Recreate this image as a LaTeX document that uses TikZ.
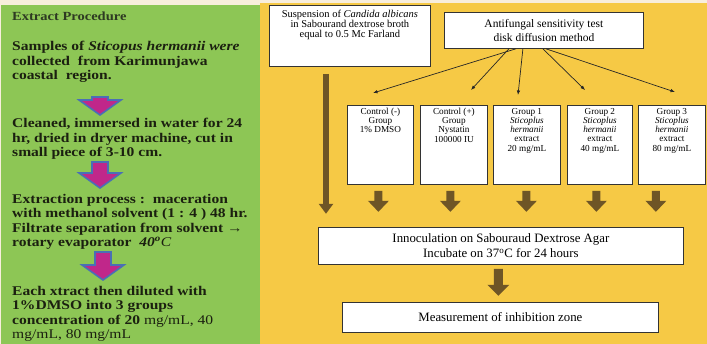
\documentclass[tikz,border=0pt]{standalone}
\usepackage{fontspec}
\setmainfont{Liberation Serif}
\newfontfamily\leftfont[FakeStretch=1.17]{Liberation Serif}
\usetikzlibrary{arrows.meta}
\definecolor{bgbeige}{HTML}{F8EEDC}
\definecolor{panelgreen}{HTML}{8DC655}
\definecolor{panelyellow}{HTML}{F6C945}
\definecolor{arrowbrown}{HTML}{6E5526}
\definecolor{arrowblue}{HTML}{4A6FB5}
\definecolor{arrowpink}{HTML}{C0278A}
\definecolor{lefttext}{HTML}{1B2010}
\definecolor{titletext}{HTML}{2E3A22}
\tikzset{
  box/.style={draw=black!80, line width=0.8pt, fill=white, inner sep=0pt},
  lefttxt/.style={anchor=base west, align=left, inner sep=0pt, text=lefttext,
    font=\leftfont\bfseries\fontsize{13.3}{14.6}\selectfont},
  grouptxt/.style={anchor=north, align=center, inner sep=0pt,
    font=\fontsize{9.2}{9.2}\selectfont},
  thinarr/.style={draw=black!85, line width=0.7pt, -{Latex[length=4.5pt,width=3.5pt]}},
  longbrown/.style={draw=arrowbrown, line width=6pt, -{Triangle[width=14pt,length=10pt]}},
  pics/pinkdown/.style={code={\draw[draw=arrowblue, line width=1.6pt, fill=arrowpink, line join=miter]
      (-8,0) -- (8,0) -- (8,#1) -- (21,#1) -- (0,#1+15) -- (-21,#1) -- (-8,#1) -- cycle;}},
  pics/browndown/.style={code={\fill[arrowbrown]
      (-4,0) -- (4,0) -- (4,10) -- (10.5,10) -- (0,21) -- (-10.5,10) -- (-4,10) -- cycle;}},
  pics/browndownlong/.style={code={\fill[arrowbrown]
      (-4.5,0) -- (4.5,0) -- (4.5,16) -- (11,16) -- (0,27) -- (-11,16) -- (-4.5,16) -- cycle;}},
}
\begin{document}
\begin{tikzpicture}[x=1pt, y=-1pt]
\useasboundingbox (0,0) rectangle (707,344);
% panels
\fill[bgbeige] (0,0) rectangle (707,344);
\fill[panelgreen] (1,5) rectangle (260,344);
\fill[panelyellow] (260,3) rectangle (707,344);

% ---------- left panel ----------
\node[anchor=base west, inner sep=0pt, text=titletext,
  font=\leftfont\bfseries\fontsize{12.4}{14}\selectfont] (title) at (12,20.5) {Extract Procedure};
\node[lefttxt] (p1) at (12,80) {Samples of \textit{Sticopus hermanii were}\\collected\ \ from Karimunjawa\\coastal\ \ region.};
\node[lefttxt] (p2) at (12,156.7) {Cleaned, immersed in water for 24\\hr, dried in dryer machine, cut in\\small piece of 3-10 cm.};
\node[lefttxt] (p3) at (12,247) {Extraction process :\ \ maceration\\with methanol solvent (1 : 4 ) 48 hr.\\Filtrate separation from solvent →\\rotary evaporator\ \ \textit{40\textsuperscript{o}}\mdseries\textit{C}};
\node[lefttxt] (p4) at (12,339) {Each xtract then diluted with\\1\%DMSO into 3 groups\\concentration of 20 \mdseries mg/mL, 40\\\mdseries mg/mL, 80 mg/mL};
\pic at (100,97) {pinkdown=3};
\pic at (100,162) {pinkdown=11};
\pic at (103,252) {pinkdown=13};

% ---------- right panel ----------
\node[box, minimum width=161pt, minimum height=61pt, anchor=north west] (susp) at (269,5) {};
\node[anchor=north, align=center, inner sep=0pt, font=\fontsize{10.5}{10}\selectfont]
  (susptxt) at ([yshift=-5pt]susp.north) {Suspension of \textit{Candida albicans}\\in Sabourand dextrose broth\\equal to 0.5 Mc Farland};

\node[box, minimum width=199pt, minimum height=36pt, anchor=north west, align=center,
  font=\fontsize{11.5}{13.5}\selectfont] (af) at (444,12) {Antifungal sensitivity test\\disk diffusion method};

% group boxes
\node[box, minimum width=66pt, minimum height=79pt, anchor=north west] (g1) at (347,105) {};
\node[box, minimum width=67pt, minimum height=79pt, anchor=north west] (g2) at (420,105) {};
\node[box, minimum width=67pt, minimum height=79pt, anchor=north west] (g3) at (493,105) {};
\node[box, minimum width=65pt, minimum height=79pt, anchor=north west] (g4) at (567,105) {};
\node[box, minimum width=67pt, minimum height=79pt, anchor=north west] (g5) at (638,105) {};
\node[grouptxt] (g1t) at ([yshift=-3pt]g1.north) {Control (-)\\Group\\1\% DMSO};
\node[grouptxt] (g2t) at ([yshift=-3pt]g2.north) {Control (+)\\Group\\Nystatin\\100000 IU};
\node[grouptxt] (g3t) at ([yshift=-3pt]g3.north) {Group 1\\\textit{Sticoplus}\\\textit{hermanii}\\extract\\20 mg/mL};
\node[grouptxt] (g4t) at ([yshift=-3pt]g4.north) {Group 2\\\textit{Sticoplus}\\\textit{hermanii}\\extract\\40 mg/mL};
\node[grouptxt] (g5t) at ([yshift=-3pt]g5.north) {Group 3\\\textit{Sticoplus}\\\textit{hermanii}\\extract\\80 mg/mL};

% arrow targets
\coordinate (t1) at (373,93);
\coordinate (t2) at (471,90);
\coordinate (t3) at (518,95);
\coordinate (t4) at (585,90);
\coordinate (t5) at (675,92);
\draw[thinarr] ([xshift=-28pt]af.south) -- (t1);
\draw[thinarr] ([xshift=-35pt]af.south) -- (t2);
\draw[thinarr] ([xshift=-21pt]af.south) -- (t3);
\draw[thinarr] ([xshift=-1pt]af.south) -- (t4);
\draw[thinarr] ([xshift=2pt]af.south) -- (t5);

\node[box, minimum width=365pt, minimum height=37pt, anchor=north west, align=center,
  font=\fontsize{12.8}{15}\selectfont] (inno) at (318,227) {Innoculation on Sabouraud Dextrose Agar\\Incubate on 37\textsuperscript{o}C for 24 hours};
\node[box, minimum width=316pt, minimum height=30pt, anchor=north west,
  font=\fontsize{12.8}{15}\selectfont] (meas) at (342,302) {Measurement of inhibition zone};

% brown arrows
\draw[longbrown] ([xshift=57pt,yshift=-7pt]susp.south west) -- ++(0,140);
\pic at ([xshift=-2pt,yshift=-6pt]g1.south) {browndown};
\pic at ([xshift=-3.5pt,yshift=-6pt]g2.south) {browndown};
\pic at ([xshift=-0.5pt,yshift=-6pt]g3.south) {browndown};
\pic at ([xshift=-3.5pt,yshift=-6pt]g4.south) {browndown};
\pic at ([xshift=-16pt,yshift=-6pt]g5.south) {browndown};
\pic at ([xshift=-2.5pt,yshift=-4pt]inno.south) {browndownlong};
\end{tikzpicture}
\end{document}
